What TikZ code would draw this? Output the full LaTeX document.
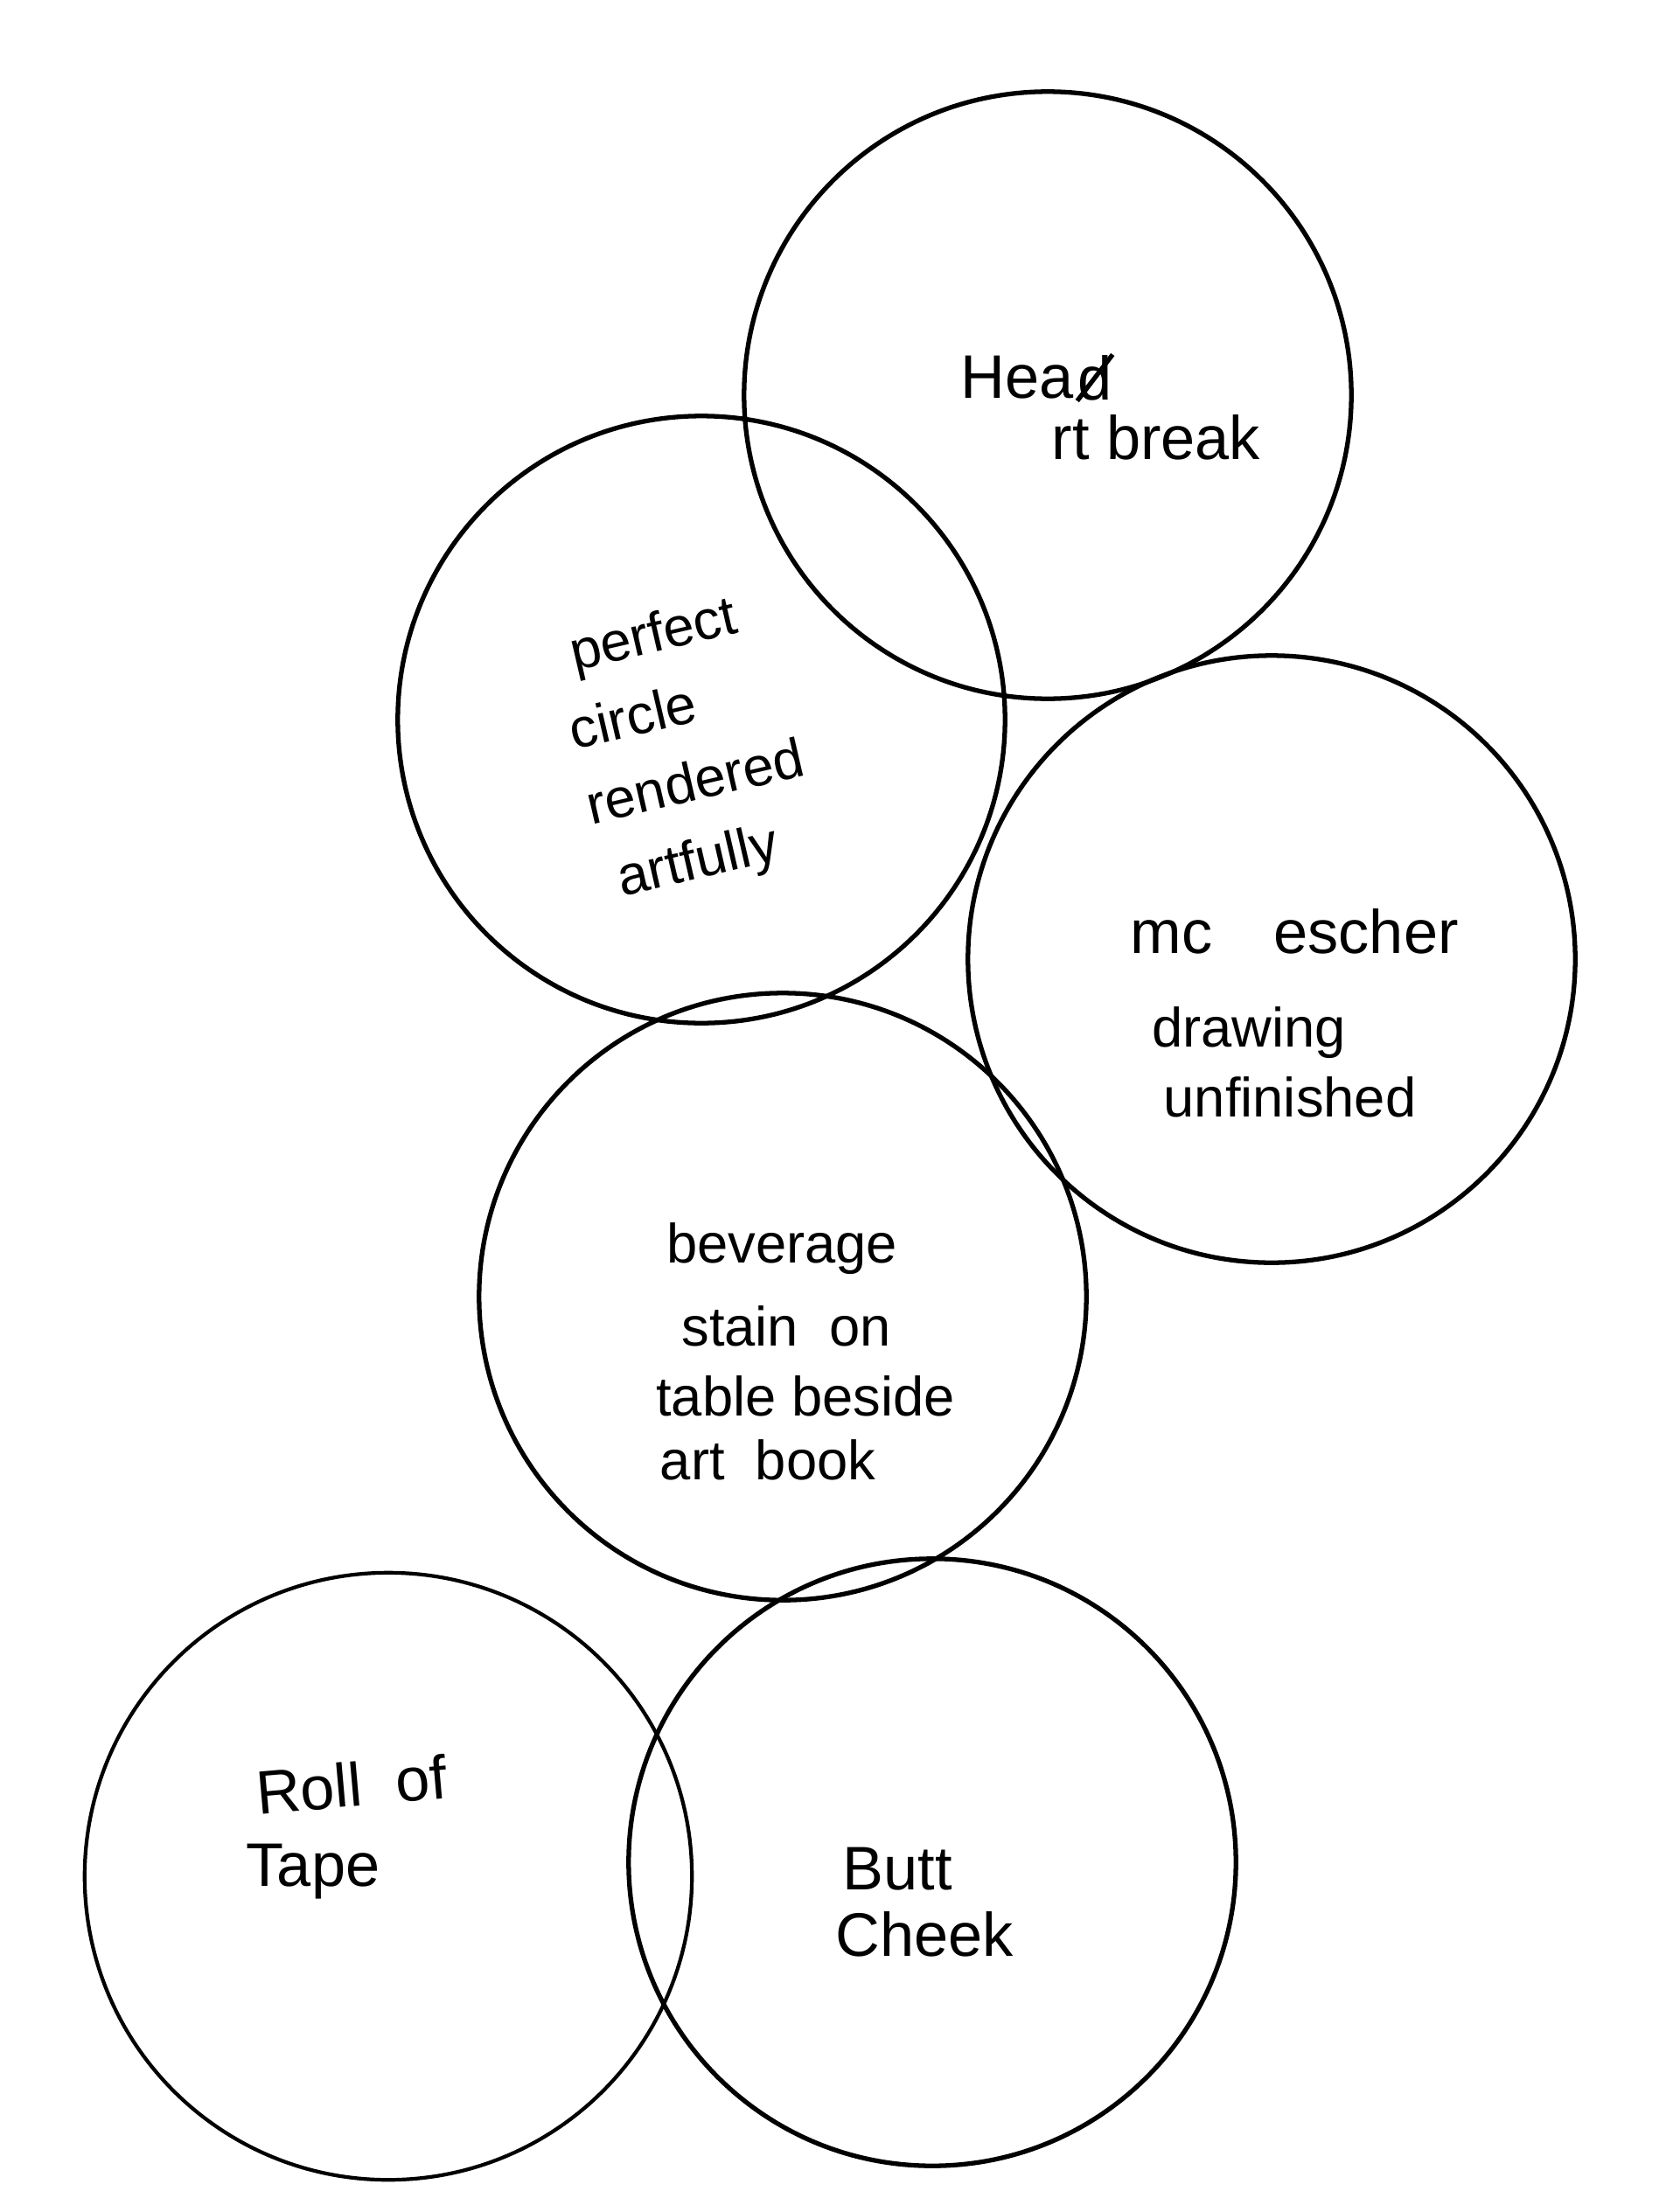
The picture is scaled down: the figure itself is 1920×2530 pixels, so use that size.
\documentclass[tikz,border=0pt]{standalone}
\usepackage{fontspec}
\setmainfont{Liberation Sans}
\usetikzlibrary{positioning}
\begin{document}
\begin{tikzpicture}[x=0.01cm, y=-0.01cm,
  ring/.style={draw, circle, line width=1.5pt, minimum size=6.94cm, inner sep=0pt},
  note/.style={font=\fontsize{18}{22}\selectfont, inner sep=0pt},
  bignote/.style={font=\fontsize{20}{24}\selectfont, inner sep=0pt}]
\useasboundingbox[fill=white] (0,0) rectangle (1920,2530);
% the six circles
\node[ring] (headring) at (1198,452) {};
\node[ring] (perfring) at (802,823) {};
\node[ring] (eschring) at (1454,1097) {};
\node[ring] (bevring) at (895,1483) {};
\node[ring, line width=1.2pt] (tapering) at (444,2146) {};
\node[ring] (buttring) at (1066,2130) {};
% heart break, with the d struck out
\node[bignote] (hea) at (1163,432) {Hea};
\node[bignote, right=1pt of hea] (dd) {d};
\draw[line width=1.5pt] (dd.south west) -- (dd.north east);
\node[bignote] (rtbreak) at (1322,500) {rt break};
% perfect circle
\node[font=\fontsize{18}{25}\selectfont, inner sep=0pt, rotate=13, align=left] (perfect) at (786,856)
  {\hspace{6pt}perfect\\circle\\rendered\\\hspace{4.5pt}artfully};
% mc escher
\node[bignote] (mcescher) at (1480,1065) {mc\quad escher};
\node[note] (drawing) at (1428,1181) {drawing};
\node[note] (unfinished) at (1475,1255) {unfinished};
% beverage stain
\node[note] (beverage) at (894,1428) {beverage};
\node[note] (stain) at (899,1517) {stain\ \ on};
\node[note] (table) at (921,1597) {table beside};
\node[note] (artbook) at (878,1670) {art\ \ book};
% roll of tape
\node[bignote, rotate=5] (rollof) at (402,2041) {Roll\ \ of};
\node[bignote] (tape) at (358,2141) {Tape};
% butt cheek
\node[bignote] (butt) at (1026,2138) {Butt};
\node[bignote] (cheek) at (1057,2212) {Cheek};
\end{tikzpicture}
\end{document}
